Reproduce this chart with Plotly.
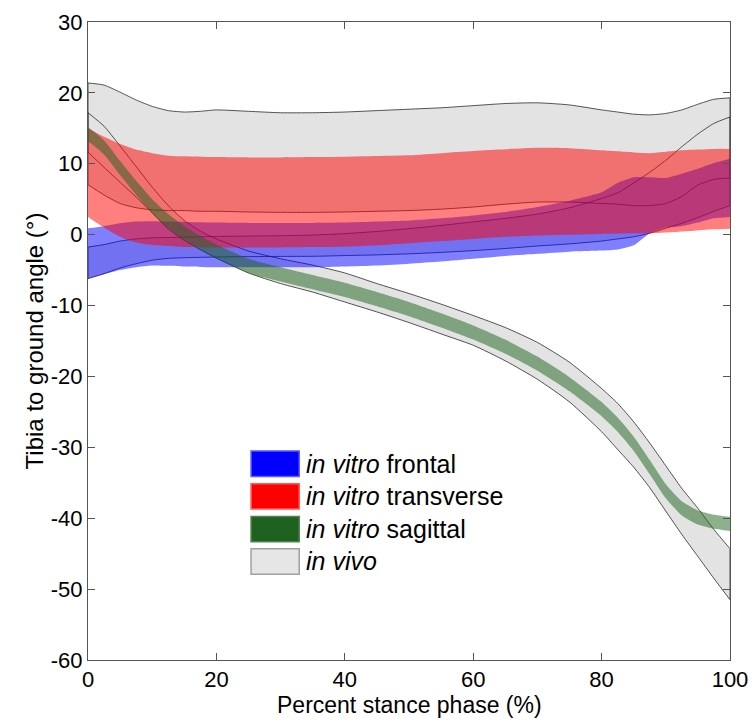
import plotly.graph_objects as go

# ---------------- data ----------------
pct = [0, 2.5, 5, 7.5, 10, 12.5, 15, 17.5, 20, 25, 30, 35, 40, 45, 50, 55, 60,
       65, 70, 75, 80, 82.5, 85, 87.5, 90, 92.5, 95, 97.5, 100]

# in vivo bands (upper / lower bounds)
vivo_trans_up = [21.4, 21.1, 20.1, 19.0, 18.1, 17.5, 17.3, 17.4, 17.6, 17.4, 17.2, 17.2, 17.3, 17.5, 17.7, 17.9, 18.2,
                 18.5, 18.6, 18.3, 17.6, 17.3, 17.0, 16.9, 17.1, 17.6, 18.4, 19.1, 19.3]
vivo_trans_lo = [7.05, 5.6, 4.4, 3.8, 3.5, 3.4, 3.4, 3.3, 3.3, 3.2, 3.15, 3.15, 3.2, 3.3, 3.4, 3.6, 3.9,
                 4.3, 4.6, 4.6, 4.4, 4.3, 4.1, 4.1, 4.4, 5.4, 7.0, 7.8, 8.0]
vivo_front_up = [-1.75, -1.4, -0.9, -0.6, -0.45, -0.4, -0.35, -0.3, -0.25, -0.2, -0.15, -0.05, 0.15, 0.45, 0.85, 1.3, 1.8,
                 2.3, 2.9, 3.8, 5.1, 5.9, 7.3, 8.8, 10.5, 12.4, 14.2, 15.7, 16.6]
vivo_front_lo = [-6.2, -5.5, -4.7, -4.1, -3.6, -3.35, -3.25, -3.2, -3.15, -3.1, -3.07, -3.05, -2.95, -2.85, -2.7, -2.5, -2.25,
                 -1.95, -1.6, -1.3, -0.9, -0.6, -0.3, 0.2, 0.9, 1.6, 2.4, 3.3, 4.1]
vivo_sag_up = [17.2, 15.3, 12.5, 9.6, 6.7, 4.1, 2.0, 0.5, -0.6, -2.3, -3.4, -4.3, -5.4, -6.9, -8.3, -9.8, -11.4,
               -13.1, -15.2, -18.0, -21.7, -23.8, -26.4, -29.4, -32.6, -35.8, -38.6, -41.6, -44.3]
vivo_sag_lo = [11.65, 9.5, 7.4, 5.3, 3.1, 0.8, -0.8, -2.1, -3.3, -5.4, -6.9, -8.1, -9.5, -10.9, -12.4, -14.0, -15.6,
               -17.8, -20.4, -23.6, -27.8, -30.3, -32.8, -35.7, -39.0, -42.3, -45.4, -48.5, -51.5]

# in vitro bands
vitro_front_up = [0.9, 1.2, 1.6, 1.85, 1.9, 1.85, 1.8, 1.75, 1.7, 1.65, 1.65, 1.65, 1.7, 1.85, 2.0, 2.3, 2.7,
                  3.2, 3.9, 4.8, 6.0, 7.3, 8.1, 8.1, 8.0, 8.6, 9.3, 10.1, 10.7]
vitro_front_lo = [-6.2, -5.6, -5.0, -4.6, -4.35, -4.4, -4.5, -4.55, -4.6, -4.6, -4.6, -4.6, -4.5, -4.35, -4.1, -3.8, -3.4,
                  -3.0, -2.7, -2.4, -2.25, -2.1, -1.5, 0.2, 1.0, 1.2, 1.7, 2.3, 2.5]
vitro_trans_up = [15.0, 13.8, 12.8, 12.0, 11.5, 11.15, 11.05, 11.0, 10.95, 10.9, 10.9, 10.95, 11.0, 11.1, 11.2, 11.5, 11.8,
                  12.05, 12.25, 12.2, 11.9, 11.75, 11.6, 11.5, 11.7, 11.9, 12.0, 12.1, 12.1]
vitro_trans_lo = [2.5, 1.0, -0.3, -1.1, -1.45, -1.6, -1.75, -1.8, -1.8, -1.8, -1.8, -1.75, -1.7, -1.5, -1.2, -0.9, -0.6,
                  -0.3, -0.1, 0.0, 0.1, 0.15, 0.2, 0.2, 0.3, 0.45, 0.6, 0.75, 0.85]
vitro_sag_up = [15.2, 13.3, 10.4, 7.6, 5.0, 2.9, 1.2, -0.2, -1.4, -3.4, -4.6, -5.7, -6.8, -8.1, -9.5, -11.1, -12.8,
                -14.8, -17.2, -20.1, -23.6, -25.8, -28.5, -31.8, -35.2, -37.6, -38.9, -39.5, -39.8]
vitro_sag_lo = [13.2, 11.3, 8.4, 5.6, 3.0, 0.9, -0.8, -2.2, -3.4, -5.4, -6.6, -7.7, -8.8, -10.1, -11.5, -13.1, -14.8,
                -16.8, -19.2, -22.1, -25.6, -27.8, -30.5, -33.8, -37.2, -39.6, -40.9, -41.5, -41.8]

legend_labels = ["<i>in vitro</i> frontal", "<i>in vitro</i> transverse",
                 "<i>in vitro</i> sagittal", "<i>in vivo</i>"]

x_ticks = [0, 20, 40, 60, 80, 100]
y_ticks = [-60, -50, -40, -30, -20, -10, 0, 10, 20, 30]

# ---------------- styles ----------------
GRAY = "rgb(227,227,227)"
EDGE = "rgba(30,30,30,0.75)"
BLUE = "rgba(0,0,255,0.5)"
RED = "rgba(255,0,0,0.5)"
GREEN = "rgba(26,100,26,0.5)"
FONT = "Liberation Sans, Arial, sans-serif"

fig = go.Figure()


def band(lo, up, color):
    fig.add_trace(go.Scatter(x=pct, y=lo, mode="lines", line=dict(width=0, shape="spline", smoothing=0.6),
                             hoverinfo="skip", showlegend=False))
    fig.add_trace(go.Scatter(x=pct, y=up, mode="lines", line=dict(width=0, shape="spline", smoothing=0.6),
                             fill="tonexty", fillcolor=color, hoverinfo="skip", showlegend=False))


def edges(lo, up):
    for ys in (lo, up):
        fig.add_trace(go.Scatter(x=pct, y=ys, mode="lines",
                                 line=dict(width=1, color=EDGE, shape="spline", smoothing=0.6),
                                 hoverinfo="skip", showlegend=False))
    for i in (0, -1):
        fig.add_trace(go.Scatter(x=[pct[i], pct[i]], y=[lo[i], up[i]], mode="lines",
                                 line=dict(width=1, color=EDGE), hoverinfo="skip", showlegend=False))


vivo = [(vivo_trans_lo, vivo_trans_up), (vivo_front_lo, vivo_front_up), (vivo_sag_lo, vivo_sag_up)]
for lo, up in vivo:
    band(lo, up, GRAY)
for lo, up in vivo:
    edges(lo, up)

band(vitro_front_lo, vitro_front_up, BLUE)
band(vitro_trans_lo, vitro_trans_up, RED)
band(vitro_sag_lo, vitro_sag_up, GREEN)

# ---------------- custom legend ----------------
swatch_colors = ["rgb(0,0,255)", "rgb(255,0,0)", "rgb(30,96,30)", "rgb(230,230,230)"]
swatch_borders = ["rgb(90,90,255)", "rgb(255,90,90)", "rgb(80,130,80)", "rgb(160,160,160)"]
sw_top = [0.3274, 0.2763, 0.2250, 0.1743]
sw_h = 0.0397
for lab, c, bc, t in zip(legend_labels, swatch_colors, swatch_borders, sw_top):
    fig.add_shape(type="rect", xref="x domain", yref="y domain", x0=0.254, x1=0.329, y0=t - sw_h, y1=t,
                  fillcolor=c, line=dict(color=bc, width=1.5))
    fig.add_annotation(xref="x domain", yref="y domain", x=0.3364, y=t - sw_h / 2, text=lab,
                       showarrow=False, xanchor="left", yanchor="middle",
                       font=dict(family=FONT, size=25, color="black"))

axis_common = dict(showline=True, linecolor="#555", linewidth=1, mirror="ticks", ticks="inside",
                   ticklen=7, tickcolor="#555", showgrid=False, zeroline=False, automargin=False,
                   tickfont=dict(family=FONT, size=22, color="black"))

# x-axis title placed as a text just under the tick labels
fig.add_annotation(xref="paper", yref="paper", x=0.5, y=0, yshift=-60, xanchor="center", yanchor="bottom",
                   text="Percent stance phase (%)", showarrow=False,
                   font=dict(family=FONT, size=23, color="black"))

fig.update_layout(
    width=752, height=720,
    margin=dict(l=88, r=22, t=22, b=60, autoexpand=False),
    paper_bgcolor="white", plot_bgcolor="white",
    showlegend=False,
    xaxis=dict(range=[0, 100], tickvals=x_ticks, ticktext=[str(v) for v in x_ticks], **axis_common),
    yaxis=dict(range=[-60, 30], tickvals=y_ticks, ticktext=[str(v) for v in y_ticks],
               title=dict(text="Tibia to ground angle (°)", font=dict(family=FONT, size=24, color="black"),
                          standoff=0),
               **axis_common),
)

fig.write_html("out.html")
